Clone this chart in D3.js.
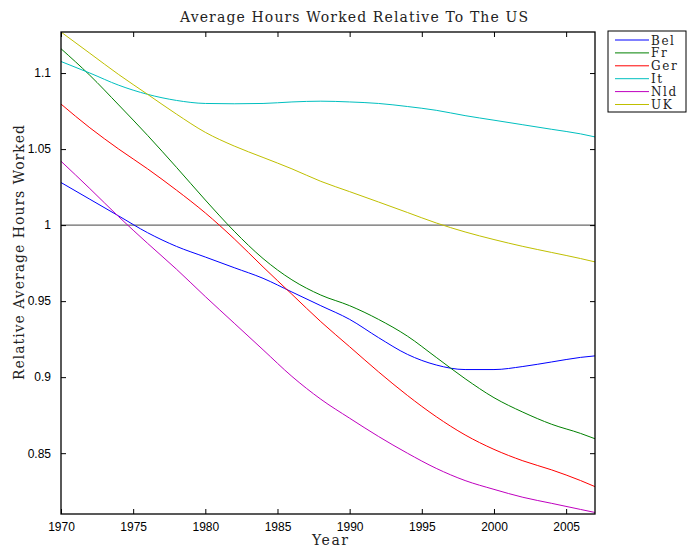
<!DOCTYPE html>
<html>
<head>
<meta charset="utf-8">
<script src="https://cdn.jsdelivr.net/npm/d3@7"></script>
<style>
  body { margin: 0; background: #fff; }
  .tick-label { font-family: "Liberation Sans", Arial, sans-serif; font-size: 12px; }
  .serif { font-family: "DejaVu Serif", "Liberation Serif", serif; fill: #222; }
</style>
</head>
<body>
<div id="chart"></div>
<script>
// data
const years = [1970, 1972, 1974, 1976, 1978, 1980, 1982, 1984, 1986, 1988,
               1990, 1992, 1994, 1996, 1998, 2000, 2002, 2004, 2006, 2007];

const bel = [1.028, 1.017, 1.006, 0.995, 0.986, 0.979, 0.972, 0.965, 0.956, 0.947,
             0.938, 0.926, 0.915, 0.908, 0.905, 0.905, 0.907, 0.910, 0.913, 0.914];
const fr  = [1.116, 1.0985, 1.079, 1.059, 1.038, 1.0165, 0.996, 0.978, 0.964, 0.954,
             0.947, 0.938, 0.927, 0.913, 0.899, 0.8865, 0.877, 0.869, 0.863, 0.8595];
const ger = [1.0796, 1.064, 1.050, 1.037, 1.023, 1.008, 0.991, 0.9725, 0.9545, 0.9365,
             0.920, 0.9035, 0.888, 0.874, 0.862, 0.8525, 0.845, 0.839, 0.832, 0.828];
const ita = [1.1076, 1.100, 1.092, 1.086, 1.082, 1.080, 1.0798, 1.080, 1.081, 1.0815,
             1.081, 1.080, 1.078, 1.0755, 1.072, 1.069, 1.066, 1.063, 1.060, 1.058];
const nld = [1.042, 1.024, 1.0055, 0.988, 0.971, 0.953, 0.9355, 0.918, 0.9005, 0.8855,
             0.873, 0.861, 0.850, 0.840, 0.832, 0.8262, 0.821, 0.817, 0.813, 0.811];
const uk  = [1.127, 1.113, 1.099, 1.086, 1.073, 1.061, 1.052, 1.0445, 1.037, 1.0288,
             1.022, 1.0152, 1.0083, 1.0014, 0.9955, 0.9905, 0.986, 0.982, 0.978, 0.9758];

const names = ["Bel", "Fr", "Ger", "It", "Nld", "UK"];
const colors = ["#0000ff", "#008000", "#ff0000", "#00bfbf", "#bf00bf", "#bfbf00"];
const seriesValues = [bel, fr, ger, ita, nld, uk];

const xTicks = [1970, 1975, 1980, 1985, 1990, 1995, 2000, 2005];
const yTicks = [0.85, 0.9, 0.95, 1, 1.05, 1.1];

const margin = { top: 32, right: 92, bottom: 39, left: 61 };
const W = 687, H = 553;
const width = W - margin.left - margin.right;
const height = H - margin.top - margin.bottom;

const svg = d3.select("#chart").append("svg")
    .attr("width", W)
    .attr("height", H);

const g = svg.append("g")
    .attr("transform", "translate(" + margin.left + "," + margin.top + ")");

const x = d3.scaleLinear().domain([1970, 2007]).range([0, width]);
const y = d3.scaleLinear().domain([0.81, 1.127]).range([height, 0]);

g.append("defs").append("clipPath").attr("id", "clip")
  .append("rect").attr("width", width).attr("height", height);

// reference line at 1
g.append("line")
    .attr("x1", 0).attr("x2", width)
    .attr("y1", y(1)).attr("y2", y(1))
    .attr("stroke", "#444").attr("stroke-width", 1);

const line = d3.line()
    .curve(d3.curveMonotoneX)
    .x((d, i) => x(years[i]))
    .y(d => y(d));

const plot = g.append("g").attr("clip-path", "url(#clip)");
seriesValues.forEach((vals, k) => {
    plot.append("path")
        .datum(vals)
        .attr("fill", "none")
        .attr("stroke", colors[k])
        .attr("stroke-width", 1)
        .attr("d", line);
});

// axes, ticks inside on all four sides
const xAxisB = d3.axisBottom(x).tickValues(xTicks).tickFormat(d3.format("d")).tickSizeInner(-5).tickSizeOuter(0).tickPadding(8);
const xAxisT = d3.axisTop(x).tickValues(xTicks).tickFormat("").tickSizeInner(-5).tickSizeOuter(0);
const yAxisL = d3.axisLeft(y).tickValues(yTicks).tickFormat(d => d3.format("")(d)).tickSizeInner(-5).tickSizeOuter(0).tickPadding(10);
const yAxisR = d3.axisRight(y).tickValues(yTicks).tickFormat("").tickSizeInner(-5).tickSizeOuter(0);

function styleAxis(sel) {
    sel.select(".domain").remove();
    sel.selectAll("line").attr("stroke", "#000");
    sel.selectAll("text").attr("class", "tick-label").attr("fill", "#000");
}

g.append("g").attr("transform", "translate(0," + height + ")").call(xAxisB).call(styleAxis);
g.append("g").call(xAxisT).call(styleAxis);
g.append("g").call(yAxisL).call(styleAxis);
g.append("g").attr("transform", "translate(" + width + ",0)").call(yAxisR).call(styleAxis);

g.append("rect")
    .attr("width", width).attr("height", height)
    .attr("fill", "none").attr("stroke", "#000").attr("stroke-width", 1.3);

// titles
svg.append("text")
    .attr("class", "serif")
    .attr("x", 180).attr("y", 22)
    .attr("font-size", 14)
    .attr("textLength", 348).attr("lengthAdjust", "spacing")
    .text("Average Hours Worked Relative To The US");

svg.append("text")
    .attr("class", "serif")
    .attr("x", 312).attr("y", 545)
    .attr("font-size", 14)
    .attr("textLength", 36).attr("lengthAdjust", "spacing")
    .text("Year");

svg.append("text")
    .attr("class", "serif")
    .attr("transform", "translate(24,380) rotate(-90)")
    .attr("font-size", 14)
    .attr("textLength", 255).attr("lengthAdjust", "spacing")
    .text("Relative Average Hours Worked");

// legend
const legend = svg.append("g").attr("transform", "translate(608,31)");
legend.append("rect")
    .attr("width", 78).attr("height", 81)
    .attr("fill", "#fff").attr("stroke", "#000").attr("stroke-width", 1);

names.forEach((name, i) => {
    const ly = 9 + i * 12.9;
    legend.append("line")
        .attr("x1", 7).attr("x2", 41)
        .attr("y1", ly).attr("y2", ly)
        .attr("stroke", colors[i]).attr("stroke-width", 1);
    legend.append("text")
        .attr("class", "serif")
        .attr("x", 43).attr("y", ly + 4.5)
        .attr("font-size", 12).attr("letter-spacing", 1.6)
        .text(name);
});
</script>
</body>
</html>
